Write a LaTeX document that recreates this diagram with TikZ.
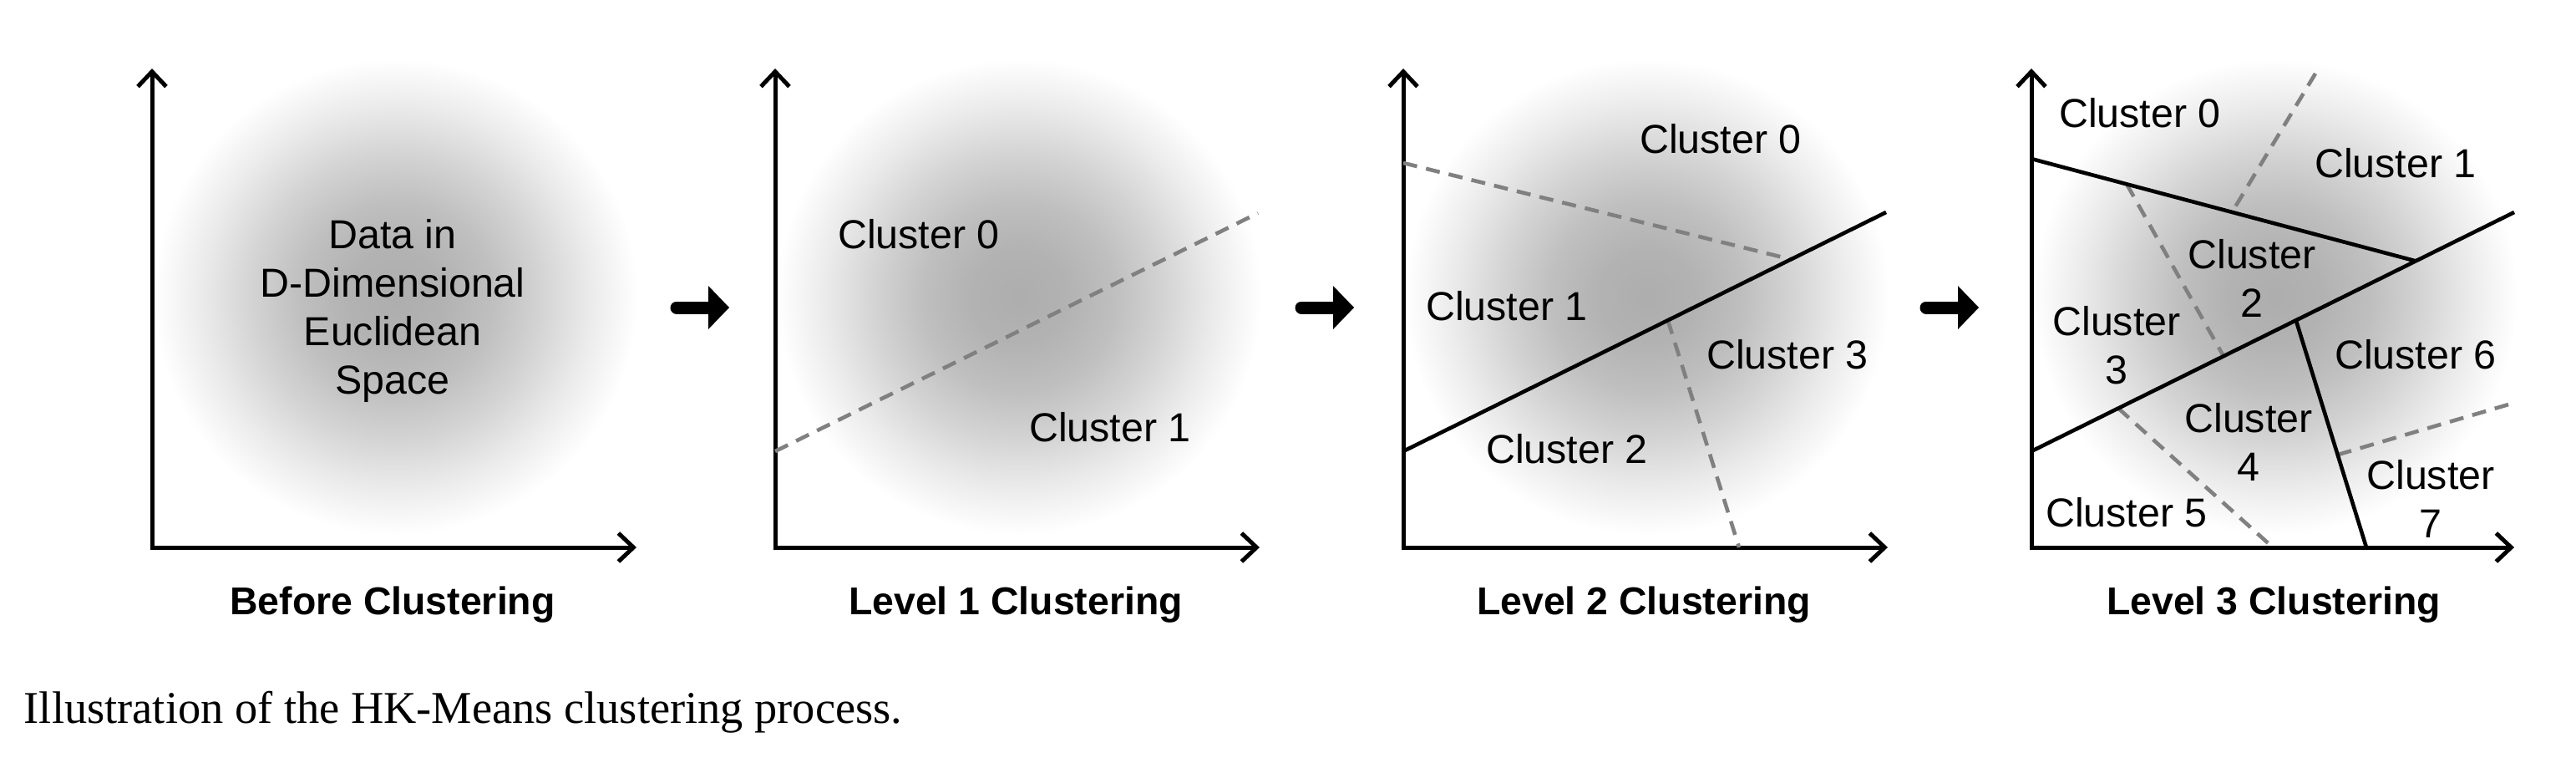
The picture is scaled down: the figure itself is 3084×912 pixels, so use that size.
\documentclass[tikz,border=0pt]{standalone}
\usepackage{fontspec}
\setmainfont{Liberation Serif}
\newfontfamily\arialf{Liberation Sans}
\usetikzlibrary{arrows.meta,calc}
\pgfdeclareradialshading{blobshade}{\pgfpoint{0bp}{0bp}}{color(0bp)=(black!32); color(5bp)=(black!30); color(10bp)=(black!25); color(15bp)=(black!17); color(20bp)=(black!8); color(25bp)=(white); color(50bp)=(white)}
\begin{document}
\begin{tikzpicture}[x=0.25pt, y=-0.25pt,
  axisline/.style={line width=1.25pt, line join=miter,
    {Straight Barb[length=4.5pt,width=8.5pt]}-{Straight Barb[length=4.5pt,width=8.5pt]}},
  cut/.style={line width=1.15pt, draw=black},
  split/.style={line width=1.15pt, draw=black!50, dash pattern=on 4.25pt off 2.75pt},
  lab/.style={font=\arialf\fontsize{12.1pt}{14.5pt}\selectfont, inner sep=0pt, align=center},
  ttl/.style={font=\arialf\bfseries\fontsize{11.6pt}{14.4pt}\selectfont, inner sep=0pt, anchor=base},
  shaft/.style={line width=3.75pt, line cap=round},
  blob/.style={shading=blobshade}
]
\useasboundingbox (0,0) rectangle (3084,912);

% ---------- Panel 1 ----------
\begin{scope}[shift={(182,655)}, yscale=-1]
  \shade[blob] (292,300) ellipse [x radius=290, y radius=285];
  \coordinate (p1top) at (0,573); \coordinate (p1o) at (0,0); \coordinate (p1r) at (580,0);
  \draw[axisline] (p1top) -- (p1o) -- (p1r);
  \node[lab] (p1data) at (288,283) {Data in\\D-Dimensional\\Euclidean\\Space};
  \node[ttl] (p1title) at (288,-80) {Before Clustering};
\end{scope}

% arrow 1
\coordinate (a1s) at (810,368); \coordinate (a1b) at (850,368); \coordinate (a1t) at (873,368);
\draw[shaft] (a1s) -- (a1b);
\fill (a1t) -- ++(-25,-26) -- ++(0,52) -- cycle;

% ---------- Panel 2 ----------
\begin{scope}[shift={(928,655)}, yscale=-1]
  \shade[blob] (292,300) ellipse [x radius=290, y radius=285];
  \coordinate (p2top) at (0,573); \coordinate (p2o) at (0,0); \coordinate (p2r) at (580,0);
  \draw[axisline] (p2top) -- (p2o) -- (p2r);
  \coordinate (p2m0) at (0,115); \coordinate (p2m1) at (578,400);
  \draw[split] (p2m0) -- (p2m1);
  \node[lab, anchor=base] (p2c0) at (172,357.5) {Cluster 0};
  \node[lab, anchor=base] (p2c1) at (401,126.5) {Cluster 1};
  \node[ttl] (p2title) at (288,-80) {Level 1 Clustering};
\end{scope}

% arrow 2
\coordinate (a2s) at (1558,368); \coordinate (a2b) at (1598,368); \coordinate (a2t) at (1621,368);
\draw[shaft] (a2s) -- (a2b);
\fill (a2t) -- ++(-25,-26) -- ++(0,52) -- cycle;

% ---------- Panel 3 ----------
\begin{scope}[shift={(1680,655)}, yscale=-1]
  \shade[blob] (292,300) ellipse [x radius=290, y radius=285];
  \coordinate (p3top) at (0,573); \coordinate (p3o) at (0,0); \coordinate (p3r) at (580,0);
  \draw[axisline] (p3top) -- (p3o) -- (p3r);
  \coordinate (p3m0) at (0,115); \coordinate (p3m1) at (578,401);
  \coordinate (p3u0) at (0,460);
  \coordinate (p3u1) at ($(p3m0)!0.803!(p3m1)$);
  \coordinate (p3d0) at ($(p3m0)!0.548!(p3m1)$);
  \coordinate (p3d1) at (402,0);
  \draw[split] (p3u0) -- (p3u1);
  \draw[split] (p3d0) -- (p3d1);
  \draw[cut] (p3m0) -- (p3m1);
  \node[lab, anchor=base] (p3c0) at (380,471.5) {Cluster 0};
  \node[lab, anchor=base] (p3c1) at (124,271.5) {Cluster 1};
  \node[lab, anchor=base] (p3c3) at (460,213.5) {Cluster 3};
  \node[lab, anchor=base] (p3c2) at (196,100.5) {Cluster 2};
  \node[ttl] (p3title) at (288,-80) {Level 2 Clustering};
\end{scope}

% arrow 3
\coordinate (a3s) at (2306,368); \coordinate (a3b) at (2346,368); \coordinate (a3t) at (2369,368);
\draw[shaft] (a3s) -- (a3b);
\fill (a3t) -- ++(-25,-26) -- ++(0,52) -- cycle;

% ---------- Panel 4 ----------
\begin{scope}[shift={(2432,655)}, yscale=-1]
  \shade[blob] (292,300) ellipse [x radius=290, y radius=285];
  \coordinate (p4top) at (0,573); \coordinate (p4o) at (0,0); \coordinate (p4r) at (578,0);
  \draw[axisline] (p4top) -- (p4o) -- (p4r);
  \coordinate (p4m0) at (0,115); \coordinate (p4m1) at (578,401);
  \coordinate (p4l2s) at (0,465);
  \coordinate (p4l2e) at ($(p4m0)!0.796!(p4m1)$);
  \coordinate (p4l3s) at ($(p4m0)!0.548!(p4m1)$);
  \coordinate (p4l3e) at (401,0);
  % dashed level-3 splits
  \coordinate (p4a0) at (340,567);
  \coordinate (p4a1) at ($(p4l2s)!0.522!(p4l2e)$);
  \coordinate (p4b0) at ($(p4l2s)!0.248!(p4l2e)$);
  \coordinate (p4b1) at ($(p4m0)!0.398!(p4m1)$);
  \coordinate (p4c0) at ($(p4m0)!0.18!(p4m1)$);
  \coordinate (p4c1) at (289,0);
  \coordinate (p4d0) at ($(p4l3s)!0.592!(p4l3e)$);
  \coordinate (p4d1) at (578,173);
  \draw[split] (p4a0) -- (p4a1);
  \draw[split] (p4b0) -- (p4b1);
  \draw[split] (p4c0) -- (p4c1);
  \draw[split] (p4d0) -- (p4d1);
  \draw[cut] (p4m0) -- (p4m1);
  \draw[cut] (p4l2s) -- (p4l2e);
  \draw[cut] (p4l3s) -- (p4l3e);
  \node[lab, anchor=base] (p4k0) at (130,502.5) {Cluster 0};
  \node[lab, anchor=base] (p4k1) at (436,442.5) {Cluster 1};
  \node[lab] (p4k2) at (264,322) {Cluster\\2};
  \node[lab] (p4k3) at (102,242) {Cluster\\3};
  \node[lab, anchor=base] (p4k6) at (460,213.5) {Cluster 6};
  \node[lab] (p4k4) at (260,126.5) {Cluster\\4};
  \node[lab, anchor=base] (p4k5) at (114,24.5) {Cluster 5};
  \node[lab] (p4k7) at (478,58.5) {Cluster\\7};
  \node[ttl] (p4title) at (290,-80) {Level 3 Clustering};
\end{scope}

% caption
\node[anchor=base west, inner sep=0pt, font=\fontsize{13.6pt}{16pt}\selectfont] (caption) at (28,865) {Illustration of the HK-Means clustering process.};
\end{tikzpicture}
\end{document}
